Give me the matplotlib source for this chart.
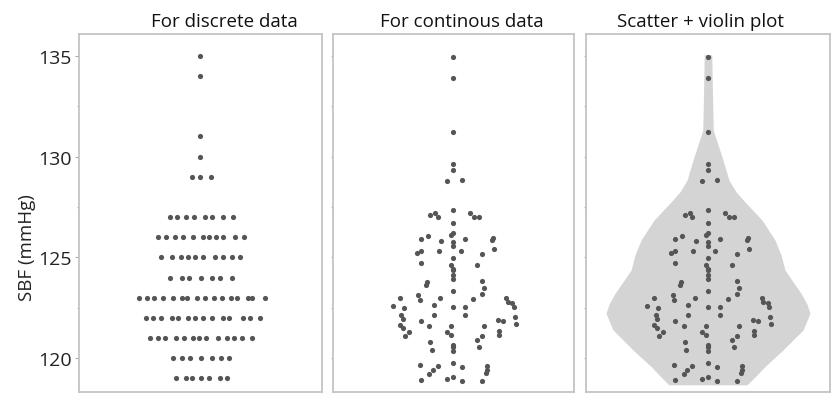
import numpy as np
import matplotlib.pyplot as plt

# discrete SBP readings (mmHg) and the horizontal spread of each dot
disc_sbp = ([135, 134, 131, 130] + [129] * 3 + [127] * 8 + [126] * 11 + [125] * 10
            + [124] * 7 + [123] * 16 + [122] * 14 + [121] * 13 + [120] * 7 + [119] * 7)
disc_spread = [0, 0, 0, 0,
               -0.07, 0, 0.09,
               -0.25, -0.19, -0.12, -0.05, 0.04, 0.10, 0.19, 0.27,
               -0.35, -0.28, -0.21, -0.14, -0.06, 0.02, 0.07, 0.13, 0.19, 0.29, 0.36,
               -0.32, -0.23, -0.16, -0.10, -0.04, 0.02, 0.12, 0.19, 0.26, 0.33,
               -0.25, -0.15, -0.09, 0.01, 0.10, 0.16, 0.26,
               -0.50, -0.44, -0.38, -0.31, -0.22, -0.15, -0.11, -0.03, 0.04, 0.11,
               0.18, 0.25, 0.30, 0.39, 0.43, 0.53,
               -0.45, -0.39, -0.32, -0.23, -0.18, -0.10, -0.04, 0.02, 0.10, 0.19,
               0.24, 0.35, 0.41, 0.49,
               -0.41, -0.35, -0.29, -0.20, -0.13, -0.06, -0.01, 0.05, 0.15, 0.22,
               0.28, 0.34, 0.43,
               -0.22, -0.15, -0.08, 0.01, 0.10, 0.17, 0.24,
               -0.20, -0.12, -0.07, 0.01, 0.07, 0.16, 0.22]

# continuous SBP readings and their swarm spread
cont_sbp = [134.93, 133.88, 131.22, 129.65, 129.34, 128.81, 128.82, 127.37, 127.11, 127.21,
            126.98, 127.21, 126.98, 126.98, 126.70, 125.91, 126.07, 125.82, 126.10, 126.22,
            125.76, 125.56, 125.89, 125.86, 125.94, 125.43, 125.20, 125.33, 125.31, 125.31,
            125.15, 124.72, 124.97, 124.62, 124.44, 124.36, 124.12, 123.91, 124.62, 123.61,
            123.76, 123.81, 123.50, 123.33, 123.13, 122.89, 122.97, 122.59, 122.47, 122.99,
            122.65, 122.56, 122.56, 122.94, 123.17, 123.00, 122.80, 122.72, 122.52, 122.13,
            121.96, 122.13, 122.13, 122.06, 121.85, 121.62, 121.65, 121.48, 121.30, 121.12,
            121.62, 121.32, 121.17, 121.62, 121.91, 121.83, 121.68, 121.35, 121.15, 120.81,
            120.43, 120.92, 121.10, 120.56, 120.64, 120.54, 120.38, 119.68, 119.62, 119.44,
            119.21, 119.77, 119.54, 119.59, 119.42, 119.26, 118.94, 118.96, 119.06, 118.86,
            118.86]
cont_spread = [0, 0, 0, 0, 0, -0.05, 0.07, 0, -0.19, -0.15,
               -0.13, 0.14, 0.17, 0.21, 0, -0.27, -0.21, -0.10, -0.02, 0,
               0, 0, 0.10, 0.32, 0.33, 0.34, -0.30, -0.27, -0.12, 0.06,
               0.24, -0.27, 0, -0.02, 0, 0, 0, 0, 0.20, -0.23,
               -0.22, 0.24, 0.25, 0, -0.29, -0.28, -0.44, -0.50, -0.41, -0.11,
               -0.16, 0, 0.10, 0.16, 0.24, 0.44, 0.45, 0.49, 0.50, -0.43,
               -0.42, -0.16, 0.10, 0.51, -0.27, -0.20, -0.44, -0.42, -0.37, -0.40,
               -0.02, -0.05, -0.02, 0.25, 0.37, 0.41, 0.52, 0.38, 0.38, -0.19,
               -0.18, 0.20, 0.24, 0.21, 0, 0, 0, -0.28, -0.13, -0.17,
               -0.20, 0, 0.07, 0.28, 0.28, 0.27, -0.27, -0.05, 0, 0.07,
               0.24]

# violin outline: SBP level and half width of the density shape
violin_level = [135.05, 133.6, 131.3, 129.98, 128.83, 128.25, 127.75, 126.85, 125.86,
                125.1, 124.37, 123.22, 122.7, 122.23, 121.4, 120.41, 119.59, 119.1, 118.68]
violin_half = [0.031, 0.035, 0.043, 0.115, 0.172, 0.23, 0.303, 0.443, 0.549,
               0.60, 0.631, 0.762, 0.81, 0.836, 0.779, 0.615, 0.467, 0.39, 0.320]

titles = ["For discrete data", "For continous data", "Scatter + violin plot"]
title_x = [0.598, 0.536, 0.471]

plt.rcParams['font.family'] = ['Open Sans', 'DejaVu Sans']
dot_col = '#555555'
frame_col = '#c4c4c4'

fig = plt.figure(figsize=(8.33, 4.06), dpi=100)
lefts = [78.7 / 833, 332.7 / 833, 586 / 833]
widths = [243 / 833, 241.3 / 833, 244 / 833]
bottom = (406 - 393.3) / 406
height = (393.3 - 34.6) / 406
axes = [fig.add_axes([l, bottom, w, height]) for l, w in zip(lefts, widths)]

for i, ax in enumerate(axes):
    ax.set_xlim(-1, 1)
    ax.set_ylim(118.31, 136.1)
    ax.set_xticks([])
    ax.set_yticks([120, 125, 130, 135])
    ax.set_yticks([122.5, 127.5, 132.5], minor=True)
    for sp in ax.spines.values():
        sp.set_color(frame_col)
        sp.set_linewidth(1.3)
    ax.text(title_x[i], 1.022, titles[i], transform=ax.transAxes,
            ha='center', va='baseline', fontsize=13.5, color='#111111')
    if i == 0:
        ax.tick_params(axis='y', which='major', length=3, width=0.8, color='#a8a8a8',
                       labelsize=14, labelcolor='#222222', pad=2)
        ax.tick_params(axis='y', which='minor', length=1.8, width=0.8, color='#a8a8a8')
        ax.set_ylabel("SBF (mmHg)", fontsize=13.5, color='#222222')
        ax.yaxis.set_label_coords(-0.175, 0.405)
    else:
        ax.tick_params(axis='y', which='both', length=1.8, width=0.8,
                       color='#b0b0b0', labelleft=False)

# panel 1: integer values stacked in rows
axes[0].scatter(disc_spread, disc_sbp, s=14, color=dot_col, linewidths=0, zorder=3)

# panel 2: continuous values as a swarm
axes[1].scatter(cont_spread, cont_sbp, s=14, color=dot_col, linewidths=0, zorder=3)

# panel 3: same swarm on top of the violin shape
vh = np.array(violin_half)
axes[2].fill_betweenx(violin_level, -vh, vh, color='#d4d4d4', linewidth=0, zorder=1)
axes[2].scatter(cont_spread, cont_sbp, s=14, color=dot_col, linewidths=0, zorder=3)

fig.savefig("out.png", dpi=100)
